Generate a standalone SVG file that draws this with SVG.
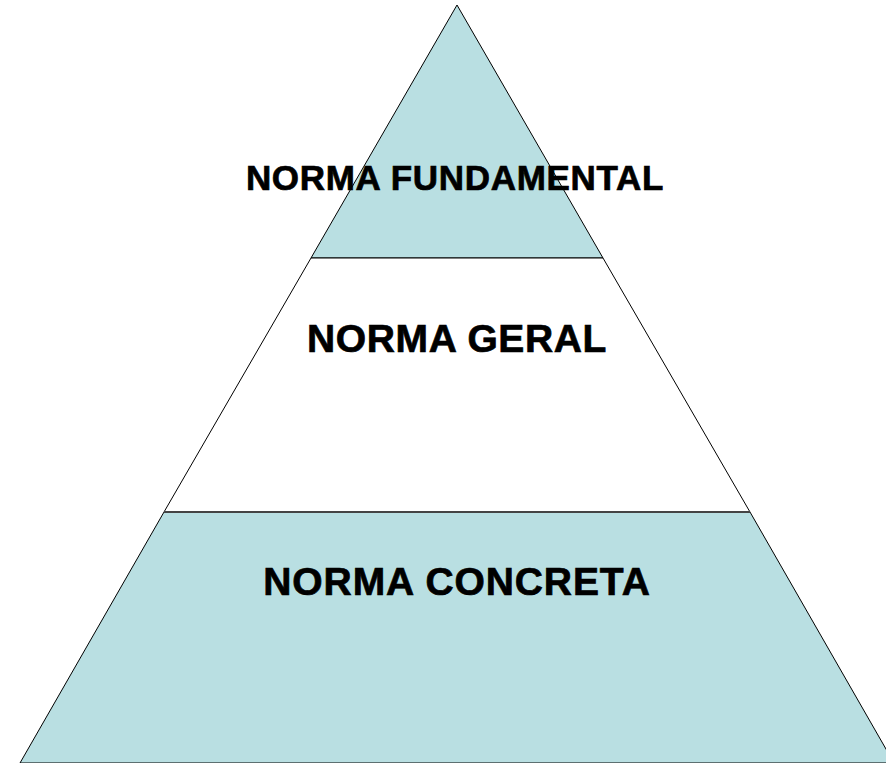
<svg xmlns="http://www.w3.org/2000/svg" width="886" height="763" viewBox="0 0 886 763">
<style>
.band{stroke:#000;stroke-width:1}
.fill{fill:#b9dfe2}
.white{fill:#ffffff}
.lbl{font-family:"Liberation Sans",Arial,sans-serif;font-weight:bold;fill:#000;stroke:#000;stroke-width:0.7;text-anchor:middle}
</style>
<rect width="886" height="763" fill="#ffffff"/>
<g id="band-top">
<polygon class="band fill" points="457,5 603,258 311,258"/>
</g>
<g id="band-middle">
<polygon class="band white" points="311,258 603,258 750,512 164,512"/>
</g>
<g id="band-bottom">
<polygon class="band fill" points="164,512 750,512 894,763 20,763"/>
<line x1="164" y1="512" x2="750" y2="512" stroke="#444" stroke-width="2"/>
</g>
<g id="labels">
<text class="lbl" x="455" y="190" font-size="35" letter-spacing="0.7">NORMA FUNDAMENTAL</text>
<text class="lbl" x="457" y="352" font-size="39" letter-spacing="0.6">NORMA GERAL</text>
<text class="lbl" x="457" y="595" font-size="39" letter-spacing="0.9">NORMA CONCRETA</text>
</g>
</svg>
